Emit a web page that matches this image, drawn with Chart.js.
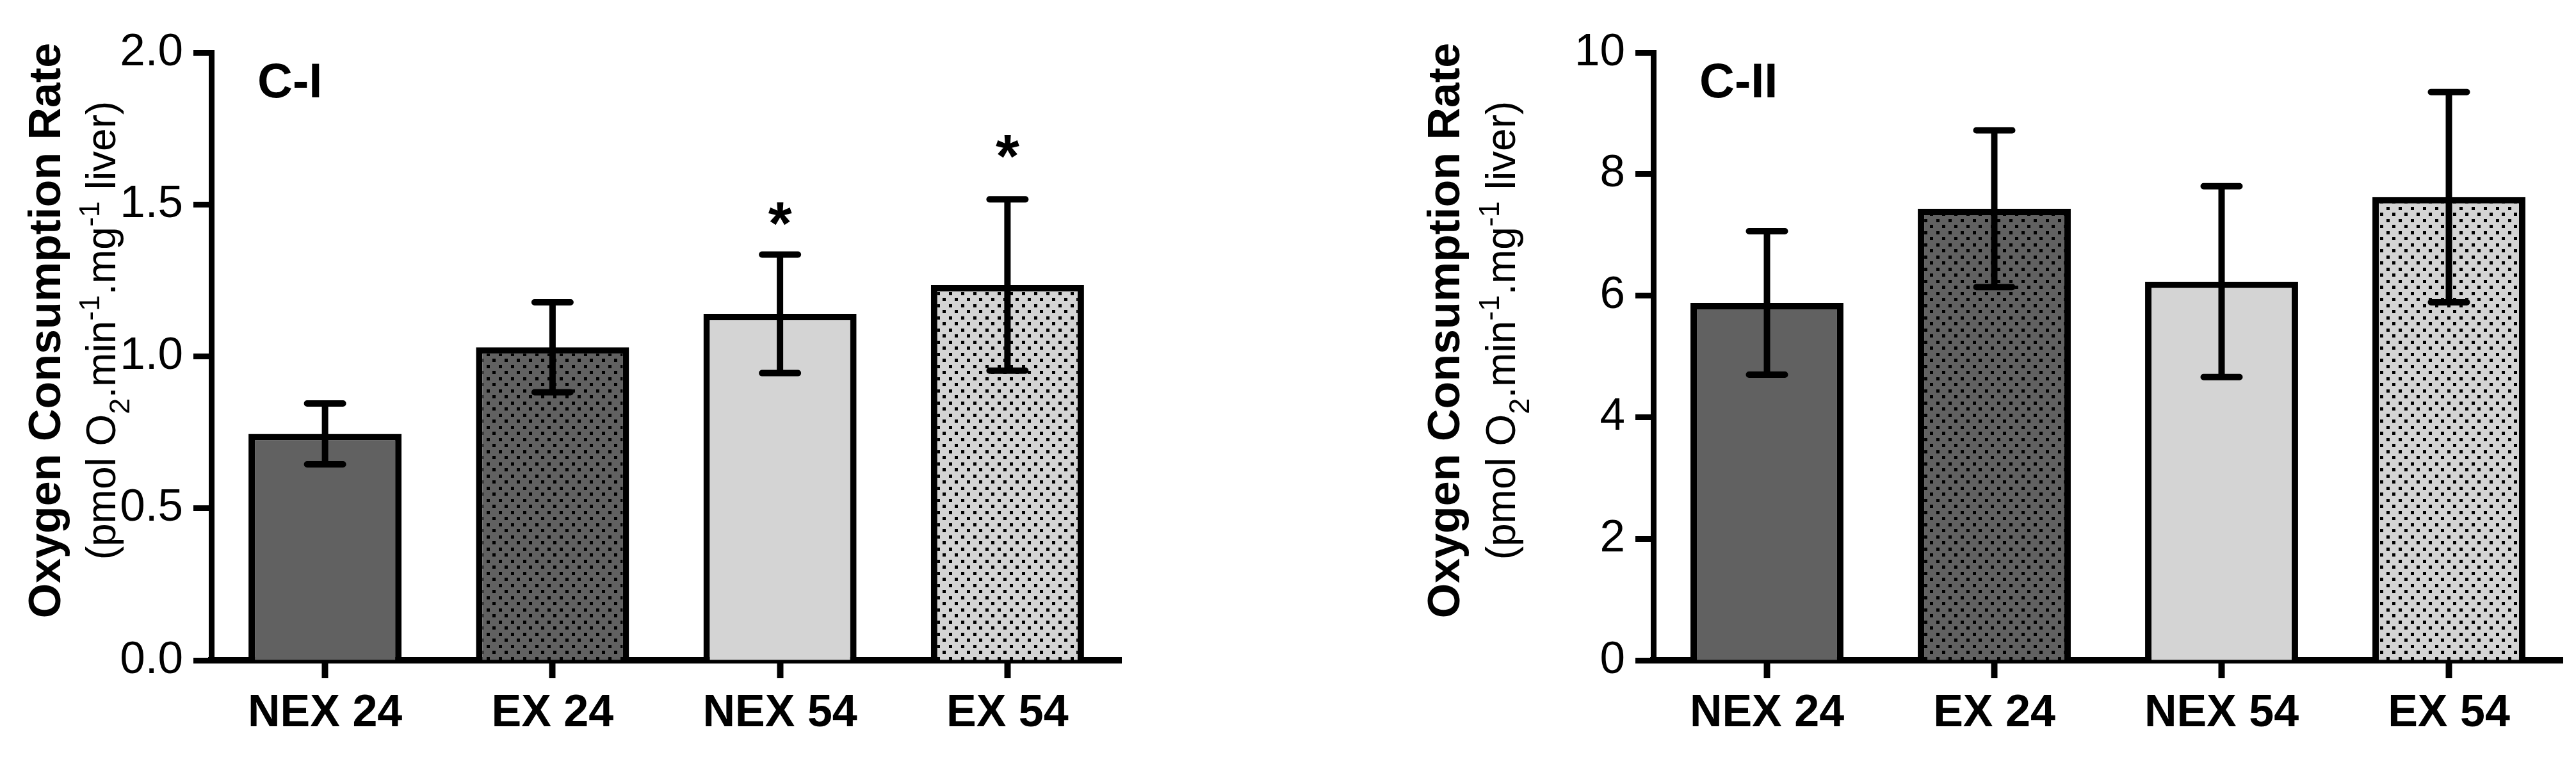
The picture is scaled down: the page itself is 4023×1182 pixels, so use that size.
<!DOCTYPE html>
<html>
<head>
<meta charset="utf-8">
<title>Oxygen consumption rate, C-I and C-II</title>
<script src="https://cdn.jsdelivr.net/npm/chart.js@4.4.1/dist/chart.umd.min.js"></script>
<style>
  html, body { margin: 0; padding: 0; background: #fff; }
  #wrap { position: relative; width: 4023px; height: 1182px; overflow: hidden; }
  .panel { position: absolute; top: 0; height: 1182px; }
</style>
</head>
<body>
<div id="wrap">
  <div class="panel" style="left:0;width:1800px"><canvas id="chartCI"></canvas></div>
  <div class="panel" style="left:2150px;width:1873px"><canvas id="chartCII"></canvas></div>
</div>
<script>
// data
const groups = ['NEX 24', 'EX 24', 'NEX 54', 'EX 54'];

const ciMean = [0.745, 1.03, 1.14, 1.235];
const ciSem = [0.10, 0.148, 0.195, 0.282];
const ciStars = ['', '', '*', '*'];
const ciStarAt = [null, null, 1.48, 1.70];

const ciiMean = [5.88, 7.43, 6.23, 7.62];
const ciiSem = [1.18, 1.29, 1.57, 1.73];
const ciiStars = ['', '', '', ''];
const ciiStarAt = [null, null, null, null];

const titleMain = 'Oxygen Consumption Rate';
// second title line: [text, kind] kind = n(ormal) / sub / sup
const titleUnit = [['(pmol O', 'n'], ['2', 'sub'], ['.min', 'n'], ['-1', 'sup'], ['.mg', 'n'], ['-1', 'sup'], [' liver)', 'n']];

const FONT = "'Liberation Sans', Arial, Helvetica, sans-serif";

function dotPattern(ctx, bg) {
  const c = document.createElement('canvas');
  c.width = 19; c.height = 19;
  const g = c.getContext('2d');
  g.fillStyle = bg;
  g.fillRect(0, 0, 19, 19);
  g.fillStyle = '#000';
  g.fillRect(0, 0, 5, 5);
  g.fillRect(9, 9, 5, 5);
  return ctx.createPattern(c, 'repeat');
}

// error bars, asterisks, panel label and the two-line y title
const decorPlugin = {
  id: 'decor',
  afterDatasetsDraw(chart, args, opts) {
    const ctx = chart.ctx;
    const y = chart.scales.y;
    const bars = chart.getDatasetMeta(0).data;
    ctx.save();
    ctx.strokeStyle = '#000';
    ctx.fillStyle = '#000';
    ctx.lineWidth = 10;
    bars.forEach((bar, i) => {
      const x = bar.x;
      const top = y.getPixelForValue(opts.mean[i] + opts.sem[i]);
      const bot = y.getPixelForValue(opts.mean[i] - opts.sem[i]);
      ctx.lineCap = 'butt';
      ctx.beginPath();
      ctx.moveTo(x, top); ctx.lineTo(x, bot);
      ctx.stroke();
      ctx.lineCap = 'round';
      ctx.beginPath();
      ctx.moveTo(x - 28, top); ctx.lineTo(x + 28, top);
      ctx.moveTo(x - 28, bot); ctx.lineTo(x + 28, bot);
      ctx.stroke();
      if (opts.stars[i]) {
        ctx.font = 'bold 95px ' + FONT;
        ctx.textAlign = 'center';
        ctx.textBaseline = 'alphabetic';
        ctx.fillText(opts.stars[i], x, y.getPixelForValue(opts.starAt[i]) + 52);
      }
    });
    ctx.restore();
  },
  afterDraw(chart, args, opts) {
    const ctx = chart.ctx;
    const area = chart.chartArea;
    ctx.save();
    ctx.fillStyle = '#000';
    // panel label
    ctx.font = 'bold 76px ' + FONT;
    ctx.textAlign = 'left';
    ctx.textBaseline = 'alphabetic';
    ctx.fillText(opts.panel, area.left + 72, 152);

    // bold title line
    ctx.save();
    ctx.translate(opts.mainX, opts.midY);
    ctx.rotate(-Math.PI / 2);
    ctx.font = 'bold 70px ' + FONT;
    ctx.textAlign = 'center';
    ctx.fillText(titleMain, 0, 0);
    ctx.restore();

    // unit line with sub / superscripts
    const runs = titleUnit.map(([t, k]) => ({
      text: t,
      font: (k === 'n' ? '64px ' : '45px ') + FONT,
      shift: k === 'sub' ? 22 : (k === 'sup' ? -25 : 0)
    }));
    let total = 0;
    runs.forEach(r => { ctx.font = r.font; r.w = ctx.measureText(r.text).width; total += r.w; });
    ctx.save();
    ctx.translate(opts.unitX, opts.midY);
    ctx.rotate(-Math.PI / 2);
    ctx.textAlign = 'left';
    let u = -total / 2;
    runs.forEach(r => { ctx.font = r.font; ctx.fillText(r.text, u, r.shift); u += r.w; });
    ctx.restore();
    ctx.restore();
  }
};

function makeChart(id, cfg) {
  const ctx = document.getElementById(id).getContext('2d');
  const fills = ['#616161', dotPattern(ctx, '#616161'), '#d4d4d4', dotPattern(ctx, '#d4d4d4')];
  return new Chart(ctx, {
    type: 'bar',
    data: {
      labels: groups,
      datasets: [{
        data: cfg.mean,
        backgroundColor: fills,
        borderColor: '#000',
        borderWidth: 10,
        borderSkipped: 'start',
        barPercentage: 0.673,
        categoryPercentage: 1
      }]
    },
    options: {
      responsive: true,
      maintainAspectRatio: false,
      animation: false,
      devicePixelRatio: 1,
      layout: { padding: { top: 82, right: cfg.padRight, left: 0, bottom: 0 } },
      plugins: {
        legend: { display: false },
        tooltip: { enabled: false },
        decor: {
          mean: cfg.mean, sem: cfg.sem, stars: cfg.stars, starAt: cfg.starAt,
          panel: cfg.panel, mainX: cfg.mainX, unitX: cfg.unitX, midY: 516
        }
      },
      scales: {
        x: {
          z: 1,
          grid: { offset: false, drawOnChartArea: false, tickLength: 28, tickWidth: 10, tickColor: '#000' },
          border: { color: '#000', width: 10 },
          ticks: { color: '#000', padding: 14, maxRotation: 0, font: { family: FONT, weight: 'bold', size: 70 } },
          afterFit(s) { s.height = 151; }
        },
        y: {
          z: 1,
          min: 0,
          max: cfg.max,
          grid: { drawOnChartArea: false, tickLength: 28, tickWidth: 9, tickColor: '#000' },
          border: { color: '#000', width: 9 },
          ticks: {
            stepSize: cfg.step, color: '#000', padding: 16,
            font: { family: FONT, size: 71 },
            callback: v => v.toFixed(cfg.digits)
          },
          afterFit(s) { s.width = cfg.axisWidth; }
        }
      }
    },
    plugins: [decorPlugin]
  });
}

makeChart('chartCI', {
  mean: ciMean, sem: ciSem, stars: ciStars, starAt: ciStarAt,
  max: 2, step: 0.5, digits: 1, panel: 'C-I',
  axisWidth: 330, padRight: 49, mainX: 94, unitX: 180
});

makeChart('chartCII', {
  mean: ciiMean, sem: ciiSem, stars: ciiStars, starAt: ciiStarAt,
  max: 10, step: 2, digits: 0, panel: 'C-II',
  axisWidth: 432, padRight: 21, mainX: 129, unitX: 216
});
</script>
</body>
</html>
